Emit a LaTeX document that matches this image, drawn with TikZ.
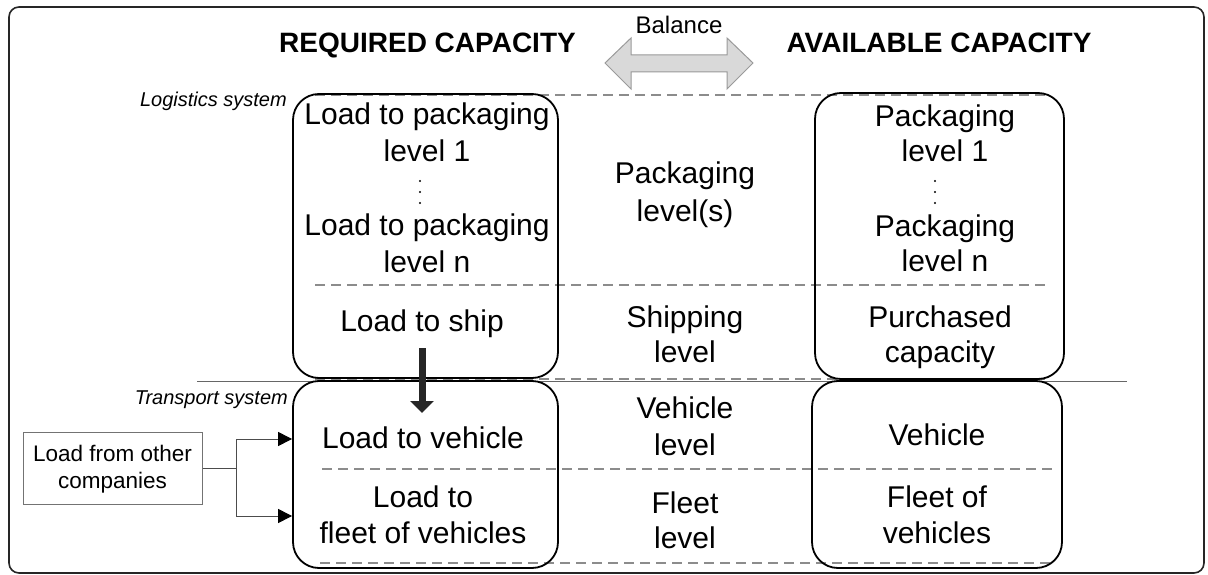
\documentclass[tikz,border=0pt]{standalone}
\usepackage{fontspec}
\setmainfont{Liberation Sans}
\usetikzlibrary{arrows.meta}
\definecolor{dashgray}{HTML}{8C8C8C}
\definecolor{arrowfill}{HTML}{D9D9D9}
\definecolor{arrowline}{HTML}{9A9A9A}
\definecolor{thickarrow}{HTML}{262626}
\tikzset{
  big/.style={anchor=base, inner sep=0pt, font=\fontsize{30}{36}\selectfont},
  head/.style={anchor=base, inner sep=0pt, font=\fontsize{28}{34}\selectfont\bfseries},
  sysl/.style={anchor=base east, inner sep=0pt, font=\fontsize{20}{24}\selectfont\itshape},
  small/.style={anchor=base, inner sep=0pt, font=\fontsize{22.5}{27}\selectfont},
  capbox/.style={draw=black, line width=1.8pt, rounded corners=26pt, inner sep=0pt},
  sepline/.style={draw=dashgray, line width=1.2pt, dash pattern=on 10pt off 6pt},
  dotmark/.style={circle, fill=black, inner sep=0pt, minimum size=2.2pt},
  feed/.style={draw=black!70, line width=1pt},
}
\begin{document}
\begin{tikzpicture}[x=1pt,y=-1pt]
\useasboundingbox (0,0) rectangle (1208,575);
% outer frame
\draw[line width=1.6pt, rounded corners=10pt, draw=black!85] (9,7) rectangle (1204,573);

% separator lines
\draw[sepline] (315,95) -- (1045,95);
\draw[sepline] (315,285) -- (1045,285);
\draw[sepline] (315,379) -- (1045,379);
\draw[sepline] (322,469) -- (1052,469);
\draw[sepline] (320,563) -- (1050,563);
\draw[draw=black!60, line width=1pt] (197,381) -- (1127,381);

% capacity boxes
\node[capbox, minimum width=265pt, minimum height=284pt] (lt) at (425.5,236) {};
\node[capbox, minimum width=265pt, minimum height=187pt] (lb) at (425.5,474.5) {};
\node[capbox, minimum width=249pt, minimum height=286pt] (rt) at (939.5,236) {};
\node[capbox, minimum width=250pt, minimum height=187pt] (rb) at (937,474.5) {};

% headings
\node[head] (req) at (427.5,53) {REQUIRED CAPACITY};
\node[head] (avail) at (939,53) {AVAILABLE CAPACITY};

% balance arrow
\node[anchor=base, inner sep=0pt, font=\fontsize{24}{28}\selectfont] (bal) at (679,34) {Balance};
\coordinate (bl) at (605,63);
\coordinate (br) at (753,63);
\filldraw[fill=arrowfill, draw=arrowline, line width=1pt]
  (bl) -- (631,38) -- (631,55) -- (727,55) -- (727,38) -- (br)
  -- (727,89) -- (727,72) -- (631,72) -- (631,89) -- cycle;

% system labels
\node[sysl] (logsys) at (287,107) {Logistics system};
\node[sysl] (trsys) at (288,404) {Transport system};

% left top box text
\node[big] (l1) at (427,125) {Load to packaging};
\node[big] (l2) at (427,161) {level 1};
\node[dotmark] (ld1) at (420,181) {};
\node[dotmark] (ld2) at (420,192) {};
\node[dotmark] (ld3) at (420,203) {};
\node[big] (l3) at (427,235) {Load to packaging};
\node[big] (l4) at (427,272) {level n};
\node[big] (l5) at (422,331) {Load to ship};

% middle text
\node[big] (m1) at (685,183) {Packaging};
\node[big] (m2) at (685,222) {level(s)};
\node[big] (m3) at (685,327) {Shipping};
\node[big] (m4) at (685,362) {level};
\node[big] (m5) at (685,418) {Vehicle};
\node[big] (m6) at (685,455) {level};
\node[big] (m7) at (685,513) {Fleet};
\node[big] (m8) at (685,548) {level};

% right top box text
\node[big] (r1) at (945,127) {Packaging};
\node[big] (r2) at (945,162) {level 1};
\node[dotmark] (rd1) at (935,181) {};
\node[dotmark] (rd2) at (935,192) {};
\node[dotmark] (rd3) at (935,203) {};
\node[big] (r3) at (945,236) {Packaging};
\node[big] (r4) at (945,271) {level n};
\node[big] (r5) at (940,327) {Purchased};
\node[big] (r6) at (940,362) {capacity};

% left bottom box text
\node[big] (lb1) at (423,448) {Load to vehicle};
\node[big] (lb2) at (423,507) {Load to};
\node[big] (lb3) at (423,543) {fleet of vehicles};

% right bottom box text
\node[big] (rb1) at (937,445) {Vehicle};
\node[big] (rb2) at (937,507) {Fleet of};
\node[big] (rb3) at (937,543) {vehicles};

% thick arrow ship -> vehicle
\coordinate (tas) at (422,348);
\coordinate (tae) at (422,413);
\draw[draw=thickarrow, line width=7pt, -{Triangle[width=23pt,length=12pt]}] (tas) -- (tae);

% load from other companies
\node[draw=black!55, line width=1pt, minimum width=179pt, minimum height=72pt, inner sep=0pt] (lfoc) at (112.5,468) {};
\node[small] (lf1) at (112.5,461) {Load from other};
\node[small] (lf2) at (112.5,488) {companies};
\coordinate (jm) at (236,468);
\coordinate (ja) at (236,439);
\coordinate (jb) at (236,516);
\draw[feed] (lfoc.east |- jm) -- (jm);
\draw[feed] (ja) -- (jb);
\draw[feed, -{Triangle[width=14pt,length=14pt,color=black]}] (ja) -- (lb.west |- ja);
\draw[feed, -{Triangle[width=14pt,length=14pt,color=black]}] (jb) -- (lb.west |- jb);
\end{tikzpicture}
\end{document}
